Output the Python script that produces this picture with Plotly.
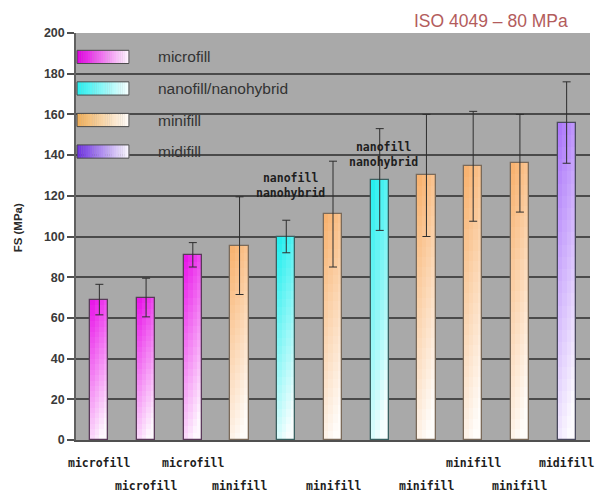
import plotly.graph_objects as go

# ---- data -------------------------------------------------------------
materials = ["microfill", "microfill", "microfill", "minifill", "nanofill/nanohybrid",
             "minifill", "nanofill/nanohybrid", "minifill", "minifill", "minifill", "midifill"]
fs_mean = [69, 70, 91, 95.5, 100, 111, 128, 130, 134.5, 136, 156]
fs_sd = [7.5, 9.5, 6, 24, 8, 26, 25, 30, 27, 24, 20]
tick_labels = ["microfill", "microfill", "microfill", "minifill", "",
               "minifill", "", "minifill", "minifill", "minifill", "midifill"]
legend_names = ["microfill", "nanofill/nanohybrid", "minifill", "midifill"]
y_ticks = [0, 20, 40, 60, 80, 100, 120, 140, 160, 180, 200]

# ---- styling ----------------------------------------------------------
base_rgb = {
    "microfill": (232, 10, 232),
    "nanofill/nanohybrid": (25, 238, 238),
    "minifill": (248, 175, 105),
    "midifill": (168, 112, 250),
}
legend_rgb = {
    "microfill": (225, 0, 225),
    "nanofill/nanohybrid": (40, 240, 240),
    "minifill": (240, 175, 90),
    "midifill": (110, 50, 225),
}
outline_rgb = {
    "microfill": "#5a3a5a",
    "nanofill/nanohybrid": "#3a6060",
    "minifill": "#7a6a5a",
    "midifill": "#4a4a5e",
}

def mix_white(rgb, w):
    w = max(0.0, min(0.97, w))
    r, g, b = (round(c + (255 - c) * w) for c in rgb)
    return f"rgb({r},{g},{b})"

n = len(fs_mean)
x = list(range(n))
BAR_W = 0.39
N_SEG = 26   # vertical gradient steps
N_COL = 4    # horizontal gradient steps

fig = go.Figure()

# gradient-filled bars: each bar split into stacked slices built from its value
for k in range(N_SEG):
    t = 1 - (k + 0.5) / N_SEG  # 0 at top, 1 at bottom
    for j in range(N_COL):
        s = j / (N_COL - 1)
        colors = [mix_white(base_rgb[m], 0.04 + 0.82 * t + 0.2 * s) for m in materials]
        fig.add_trace(go.Bar(
            x=x,
            y=[v / N_SEG for v in fs_mean],
            base=[v * k / N_SEG for v in fs_mean],
            width=BAR_W / N_COL,
            offset=-BAR_W / 2 + j * BAR_W / N_COL,
            marker=dict(color=colors, line=dict(width=0)),
            showlegend=False,
            hoverinfo="skip",
        ))

# outline + error bars
fig.add_trace(go.Bar(
    x=x, y=fs_mean, width=BAR_W,
    marker=dict(color="rgba(0,0,0,0)",
                line=dict(color=[outline_rgb[m] for m in materials], width=1.3)),
    error_y=dict(type="data", array=fs_sd, visible=True,
                 color="#2e2e2e", thickness=1, width=4),
    showlegend=False,
))

# ---- custom legend with gradient swatches ------------------------------
shapes = []
annotations = []
legend_y = [(185, 191.5), (169.5, 176), (154, 160.5), (138.5, 145)]
sw_x0, sw_x1 = 0.002, 0.103
steps = 24
for name, (y0, y1) in zip(legend_names, legend_y):
    for i in range(steps):
        xa = sw_x0 + (sw_x1 - sw_x0) * i / steps
        xb = sw_x0 + (sw_x1 - sw_x0) * (i + 1) / steps
        shapes.append(dict(type="rect", xref="paper", yref="y",
                           x0=xa, x1=xb + 0.0005, y0=y0, y1=y1,
                           fillcolor=mix_white(legend_rgb[name], 0.95 * i / (steps - 1)),
                           line=dict(width=0), layer="above"))
    shapes.append(dict(type="rect", xref="paper", yref="y",
                       x0=sw_x0, x1=sw_x1, y0=y0, y1=y1,
                       line=dict(color="#4a4a4a", width=1), layer="above"))
    annotations.append(dict(xref="paper", yref="y", x=0.156, y=(y0 + y1) / 2,
                            text=name, showarrow=False, xanchor="left", yanchor="middle",
                            font=dict(family="Liberation Sans, Arial", size=15.5, color="#333333")))

# staggered category labels under the axis
label_font = dict(family="DejaVu Sans Mono", size=11.5, color="#1e1e1e")
label_rows = [0, 1, 0, 1, 0, 1, 0, 1, 0, 1, 0]
for i, (lab, row) in enumerate(zip(tick_labels, label_rows)):
    if lab:
        annotations.append(dict(x=i, y=0, xref="x", yref="y", text=f"<b>{lab}</b>",
                                showarrow=False, yanchor="middle",
                                yshift=-23 - 23 * row, font=label_font))

# labels drawn above the nanofill/nanohybrid bars
for i, ylab in [(4, 125), (6, 140.5)]:
    annotations.append(dict(x=i + 0.08, y=ylab, xref="x", yref="y",
                            text="<b>nanofill<br>nanohybrid</b>", showarrow=False,
                            yanchor="middle", font=label_font))

# title and axis title
annotations.append(dict(xref="paper", yref="paper", x=0.962, y=1.0, yshift=12,
                        text="ISO 4049 \u2013 80 MPa", showarrow=False,
                        xanchor="right", yanchor="middle",
                        font=dict(family="Liberation Sans, Arial", size=17.5, color="#b35c5c")))
annotations.append(dict(xref="paper", yref="paper", x=0, xshift=-58, y=0.52,
                        text="<b>FS (MPa)</b>", showarrow=False, textangle=-90,
                        xanchor="center", yanchor="middle",
                        font=dict(family="Liberation Sans, Arial", size=11.5, color="#2a2a2a")))

fig.update_layout(
    width=597, height=494,
    margin=dict(l=76, r=7, t=33, b=54),
    paper_bgcolor="white",
    plot_bgcolor="#a9a9a9",
    barmode="overlay",
    bargap=0,
    shapes=shapes,
    annotations=annotations,
    showlegend=False,
    xaxis=dict(range=[-0.5, n - 0.5], showticklabels=False, ticks="",
               showgrid=False, zeroline=False, showline=True,
               linecolor="#505050", linewidth=1.5),
    yaxis=dict(range=[0, 200], tickvals=y_ticks, showgrid=True,
               gridcolor="#4a4a4a", gridwidth=1.6, zeroline=False,
               showline=True, linecolor="#606060", linewidth=1.5,
               ticks="outside", ticklen=7, tickcolor="#505050", tickwidth=1.5,
               tickfont=dict(family="Liberation Sans, Arial", size=12.5, color="#3a3a3a",
                             weight="bold")),
)

fig.write_html("out.html")
